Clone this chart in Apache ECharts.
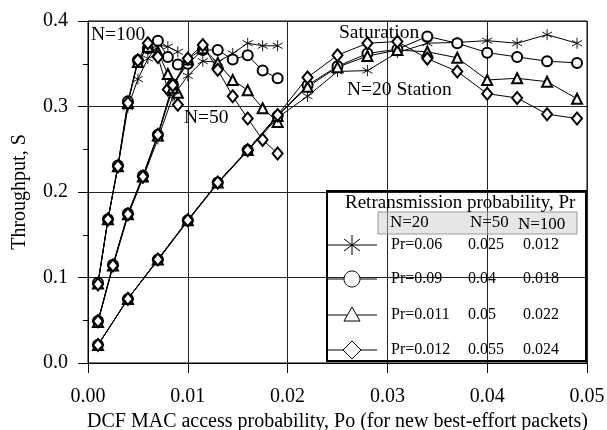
<!DOCTYPE html>
<html>
<head>
<meta charset="utf-8">
<script src="https://cdn.jsdelivr.net/npm/echarts@6/dist/echarts.min.js"></script>
<style>
  html, body { margin: 0; padding: 0; background: #fff; }
  #chart { width: 607px; height: 430px; }
</style>
</head>
<body>
<div id="chart"></div>
<script>
// x positions for each station count
const x100 = [0.001, 0.002, 0.003, 0.004, 0.005, 0.006, 0.007, 0.008, 0.009];
const x50 = [0.001, 0.0025, 0.004, 0.0055, 0.007, 0.0085, 0.010, 0.0115, 0.013, 0.0145, 0.016, 0.0175, 0.019];
const x20 = [0.001, 0.004, 0.007, 0.010, 0.013, 0.016, 0.019, 0.022, 0.025, 0.028, 0.031, 0.034, 0.037, 0.040, 0.043, 0.046, 0.049];

// throughput, N=100
const n100Star = [0.093, 0.168, 0.229, 0.299, 0.332, 0.356, 0.372, 0.370, 0.364];
const n100Circle = [0.094, 0.168, 0.231, 0.306, 0.354, 0.368, 0.377, 0.358, 0.349];
const n100Tri = [0.093, 0.168, 0.230, 0.304, 0.352, 0.370, 0.364, 0.338, 0.316];
const n100Diam = [0.092, 0.168, 0.230, 0.304, 0.354, 0.374, 0.358, 0.320, 0.302];

// throughput, N=50
const n50Star = [0.048, 0.113, 0.172, 0.216, 0.262, 0.312, 0.336, 0.353, 0.352, 0.362, 0.374, 0.371, 0.371];
const n50Circle = [0.049, 0.115, 0.175, 0.219, 0.267, 0.326, 0.350, 0.366, 0.366, 0.355, 0.360, 0.342, 0.333];
const n50Tri = [0.048, 0.114, 0.174, 0.218, 0.266, 0.322, 0.355, 0.368, 0.351, 0.331, 0.319, 0.298, 0.282];
const n50Diam = [0.049, 0.114, 0.174, 0.218, 0.267, 0.325, 0.356, 0.372, 0.343, 0.312, 0.286, 0.261, 0.245];

// throughput, N=20
const n20Star = [0.021, 0.075, 0.120, 0.166, 0.210, 0.248, 0.287, 0.312, 0.341, 0.342, 0.363, 0.374, 0.375, 0.377, 0.374, 0.384, 0.374];
const n20Circle = [0.021, 0.075, 0.121, 0.167, 0.211, 0.249, 0.289, 0.325, 0.347, 0.362, 0.367, 0.382, 0.374, 0.363, 0.358, 0.353, 0.351];
const n20Tri = [0.021, 0.075, 0.121, 0.167, 0.211, 0.249, 0.289, 0.323, 0.346, 0.359, 0.366, 0.364, 0.357, 0.331, 0.333, 0.329, 0.309];
const n20Diam = [0.021, 0.075, 0.121, 0.167, 0.211, 0.249, 0.290, 0.334, 0.360, 0.374, 0.376, 0.356, 0.341, 0.315, 0.310, 0.291, 0.286];

// legend table
const legendTitle = 'Retransmission probability, Pr';
const legendHead = ['N=20', 'N=50', 'N=100'];
const legendRows = [
  ['Pr=0.06', '0.025', '0.012'],
  ['Pr=0.09', '0.04', '0.018'],
  ['Pr=0.011', '0.05', '0.022'],
  ['Pr=0.012', '0.055', '0.024'],
];

const FONT = '"Liberation Serif", "DejaVu Serif", serif';
const STAR = 'path://M5,0L5,10M0.67,2.5L9.33,7.5M0.67,7.5L9.33,2.5';
const markers = [
  { symbol: STAR, size: [10, 11] },
  { symbol: 'emptyCircle', size: 10 },
  { symbol: 'emptyTriangle', size: 10 },
  { symbol: 'emptyDiamond', size: [10, 12] },
];

function mk(xs, ys, m) {
  return {
    type: 'line',
    data: xs.map((x, i) => [x, ys[i]]),
    symbol: markers[m].symbol,
    symbolSize: markers[m].size,
    lineStyle: { color: '#000', width: 1 },
    itemStyle: { color: '#000', borderColor: '#000', borderWidth: 0.9 },
    emphasis: { disabled: true },
    animation: false,
  };
}

const series = [
  mk(x100, n100Star, 0), mk(x100, n100Circle, 1), mk(x100, n100Tri, 2), mk(x100, n100Diam, 3),
  mk(x50, n50Star, 0), mk(x50, n50Circle, 1), mk(x50, n50Tri, 2), mk(x50, n50Diam, 3),
  mk(x20, n20Star, 0), mk(x20, n20Circle, 1), mk(x20, n20Tri, 2), mk(x20, n20Diam, 3),
];

function txt(x, y, s, size, align) {
  return {
    type: 'text', x, y, z: 50,
    style: {
      text: s, font: size + 'px ' + FONT, fill: '#000',
      align: align || 'left', textAlign: align || 'left',
      verticalAlign: 'middle', textVerticalAlign: 'middle',
    },
  };
}

const blk = { stroke: '#000', lineWidth: 1, fill: '#fff' };
function legendMarker(i, cx, cy) {
  if (i === 0) {
    return [
      { type: 'line', shape: { x1: cx, y1: cy - 10, x2: cx, y2: cy + 10 }, style: blk, z: 51 },
      { type: 'line', shape: { x1: cx - 8, y1: cy - 6, x2: cx + 8, y2: cy + 6 }, style: blk, z: 51 },
      { type: 'line', shape: { x1: cx - 8, y1: cy + 6, x2: cx + 8, y2: cy - 6 }, style: blk, z: 51 },
    ];
  }
  if (i === 1) {
    return [{ type: 'ellipse', shape: { cx, cy, rx: 8, ry: 8 }, style: blk, z: 51 }];
  }
  if (i === 2) {
    return [{ type: 'polygon', shape: { points: [[cx, cy - 8], [cx - 8, cy + 6], [cx + 8, cy + 6]] }, style: blk, z: 51 }];
  }
  return [{ type: 'polygon', shape: { points: [[cx, cy - 9], [cx - 9, cy], [cx, cy + 9], [cx + 9, cy]] }, style: blk, z: 51 }];
}

const graphics = [
  txt(91, 35, 'N=100', 19.5),
  txt(184, 118, 'N=50', 19.5),
  txt(339, 33, 'Saturation', 19.5),
  txt(347, 90, 'N=20 Station', 19.5),
  { type: 'rect', shape: { x: 327, y: 191, width: 259, height: 170 },
    style: { fill: 'rgba(255,255,255,0)', stroke: '#000', lineWidth: 2 }, z: 48 },
  { type: 'rect', shape: { x: 378, y: 212, width: 199, height: 22 },
    style: { fill: 'rgba(200,200,200,0.45)', stroke: '#999', lineWidth: 1 }, z: 48 },
  txt(345, 203, legendTitle, 19),
  txt(390, 223, legendHead[0], 17),
  txt(470, 223, legendHead[1], 17),
  txt(518, 225, legendHead[2], 17),
];
const rowY = [245, 279, 315, 350];
legendRows.forEach((r, i) => {
  const y = rowY[i];
  graphics.push({ type: 'line', shape: { x1: 327, y1: y, x2: 377, y2: y }, style: { stroke: '#000', lineWidth: 1 }, z: 50 });
  graphics.push(...legendMarker(i, 352, y));
  graphics.push(txt(391, y, r[0], 16));
  graphics.push(txt(468, y, r[1], 16));
  graphics.push(txt(523, y, r[2], 16));
});

const chart = echarts.init(document.getElementById('chart'), null, { renderer: 'canvas' });
chart.setOption({
  backgroundColor: '#fff',
  animation: false,
  grid: {
    left: 88, right: 20, top: 21, bottom: 67,
    outerBoundsMode: 'none', containLabel: false,
    show: true, borderColor: '#000', borderWidth: 1,
  },
  xAxis: {
    type: 'value', min: 0, max: 0.05, interval: 0.01,
    name: 'DCF MAC access probability, Po (for new best-effort packets)',
    nameLocation: 'middle', nameGap: 41,
    nameTextStyle: { fontFamily: FONT, fontSize: 20, color: '#000' },
    axisLine: { lineStyle: { color: '#000', width: 1 } },
    axisTick: { show: true, length: 10, lineStyle: { color: '#000' } },
    axisLabel: { fontFamily: FONT, fontSize: 20, color: '#000', margin: 24, formatter: v => v.toFixed(2) },
    splitLine: { show: true, lineStyle: { color: '#222', width: 1 } },
  },
  yAxis: {
    type: 'value', min: 0, max: 0.4, interval: 0.1,
    name: 'Throughput, S',
    nameLocation: 'middle', nameGap: 58,
    nameTextStyle: { fontFamily: FONT, fontSize: 20, color: '#000' },
    axisLine: { lineStyle: { color: '#000', width: 1 } },
    axisTick: { show: true, length: 10, lineStyle: { color: '#000' } },
    minorTick: { show: true, splitNumber: 2, length: 5, lineStyle: { color: '#000' } },
    axisLabel: { fontFamily: FONT, fontSize: 20, color: '#000', margin: 20, formatter: v => v.toFixed(1) },
    splitLine: { show: true, lineStyle: { color: '#222', width: 1 } },
  },
  series,
  graphic: graphics,
});
</script>
</body>
</html>
